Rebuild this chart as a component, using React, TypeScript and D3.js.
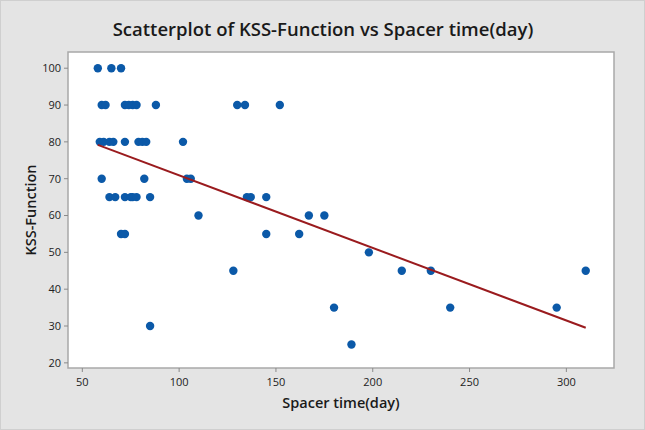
import React from "react";
import * as d3 from "d3";

const spacerDays: number[] = [
  58, 65, 70,
  60, 62, 72, 74, 76, 78, 88, 130, 134, 152,
  59, 61, 64, 66, 72, 79, 81, 83, 102,
  60, 82, 104, 106,
  64, 67, 72, 75, 76, 78, 85, 135, 137, 145,
  110, 167, 175,
  70, 72, 145, 162,
  198,
  128, 215, 230, 310,
  180, 240, 295,
  85, 189,
];
const kssFunction: number[] = [
  100, 100, 100,
  90, 90, 90, 90, 90, 90, 90, 90, 90, 90,
  80, 80, 80, 80, 80, 80, 80, 80, 80,
  70, 70, 70, 70,
  65, 65, 65, 65, 65, 65, 65, 65, 65, 65,
  60, 60, 60,
  55, 55, 55, 55,
  50,
  45, 45, 45, 45,
  35, 35, 35,
  30, 25,
];
const xTicks: number[] = [50, 100, 150, 200, 250, 300];
const yTicks: number[] = [20, 30, 40, 50, 60, 70, 80, 90, 100];
const fitIntercept = 90.6;
const fitSlope = -0.197;

const W = 645;
const H = 430;
const plot = { left: 68, right: 614, top: 52, bottom: 368 };
const font = "'Open Sans', 'Noto Sans', sans-serif";

export default function App() {
  const x = d3.scaleLinear().domain([42.6, 324.6]).range([plot.left, plot.right]);
  const y = d3.scaleLinear().domain([18.6, 104.4]).range([plot.bottom, plot.top]);
  const xMin = d3.min(spacerDays) as number;
  const xMax = d3.max(spacerDays) as number;
  const fitLine = d3
    .line<number>()
    .x((d) => x(d))
    .y((d) => y(fitIntercept + fitSlope * d))([xMin, xMax]);
  const cx = (plot.left + plot.right) / 2;

  return (
    <svg
      width={W}
      height={H}
      style={{ position: "absolute", left: 0, top: 0, display: "block" }}
    >
      <rect x={0} y={0} width={W} height={H} fill="#e4e4e4" />
      <rect x={0.5} y={0.5} width={W - 1} height={H - 1} fill="none" stroke="#cfcfcf" />
      <text
        x={323}
        y={36}
        textAnchor="middle"
        fontFamily={font}
        fontSize={18.5}
        fontWeight={600}
        fill="#1a1a1a"
      >
        Scatterplot of KSS-Function vs Spacer time(day)
      </text>
      <rect
        x={plot.left}
        y={plot.top}
        width={plot.right - plot.left}
        height={plot.bottom - plot.top}
        fill="#ffffff"
        stroke="#a8a8a8"
        strokeWidth={1.5}
      />
      {yTicks.map((t) => (
        <g key={"y" + t}>
          <line x1={plot.left - 4} x2={plot.left} y1={y(t)} y2={y(t)} stroke="#8a8a8a" />
          <text
            x={plot.left - 7}
            y={y(t)}
            dy="0.35em"
            textAnchor="end"
            fontFamily={font}
            fontSize={11}
            fill="#222"
          >
            {t}
          </text>
        </g>
      ))}
      {xTicks.map((t) => (
        <g key={"x" + t}>
          <line x1={x(t)} x2={x(t)} y1={plot.bottom} y2={plot.bottom + 4} stroke="#8a8a8a" />
          <text
            x={x(t)}
            y={plot.bottom + 18}
            textAnchor="middle"
            fontFamily={font}
            fontSize={11}
            fill="#222"
          >
            {t}
          </text>
        </g>
      ))}
      <text
        x={cx}
        y={408}
        textAnchor="middle"
        fontFamily={font}
        fontSize={14.5}
        fontWeight={600}
        fill="#1a1a1a"
      >
        Spacer time(day)
      </text>
      <text
        transform={`translate(36, ${(plot.top + plot.bottom) / 2}) rotate(-90)`}
        textAnchor="middle"
        fontFamily={font}
        fontSize={14.5}
        fontWeight={600}
        fill="#1a1a1a"
      >
        KSS-Function
      </text>
      {spacerDays.map((d, i) => (
        <circle key={i} cx={x(d)} cy={y(kssFunction[i])} r={4.2} fill="#0b59a8" />
      ))}
      <path d={fitLine ?? ""} fill="none" stroke="#9a1b1e" strokeWidth={2} />
    </svg>
  );
}
